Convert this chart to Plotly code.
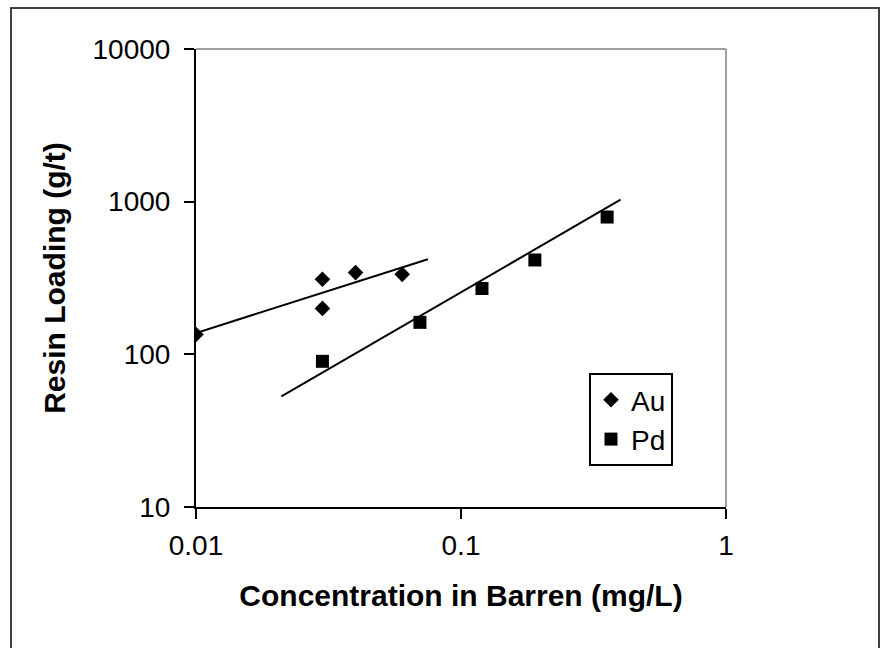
import plotly.graph_objects as go

# Data
au_x = [0.01, 0.03, 0.03, 0.04, 0.06]
au_y = [135, 310, 200, 343, 334]
pd_x = [0.03, 0.07, 0.12, 0.19, 0.356]
pd_y = [90, 162, 270, 415, 793]
# Trend lines (endpoints)
au_line_x = [0.01, 0.075]
au_line_y = [138, 420]
pd_line_x = [0.021, 0.4]
pd_line_y = [53, 1030]

x_ticks = [0.01, 0.1, 1]
x_tick_text = ["0.01", "0.1", "1"]
y_ticks = [10, 100, 1000, 10000]
y_tick_text = ["10", "100", "1000", "10000"]

FONT = "Liberation Sans, Arial, sans-serif"
TICK_SIZE = 28
TITLE_SIZE = 30

fig = go.Figure()
fig.add_trace(go.Scatter(x=au_line_x, y=au_line_y, mode="lines",
                         line=dict(color="black", width=2), showlegend=False, hoverinfo="skip"))
fig.add_trace(go.Scatter(x=pd_line_x, y=pd_line_y, mode="lines",
                         line=dict(color="black", width=2), showlegend=False, hoverinfo="skip"))
fig.add_trace(go.Scatter(x=au_x, y=au_y, mode="markers", name="Au",
                         marker=dict(symbol="diamond", size=12, color="black")))
fig.add_trace(go.Scatter(x=pd_x, y=pd_y, mode="markers", name="Pd",
                         marker=dict(symbol="square", size=13, color="black")))

L, R, T, B = 196, 726, 49, 507
W, H = 881, 648
pw, ph = R - L, B - T

def px(xp):
    return (xp - L) / pw

def py(yp):
    return (B - yp) / ph

fig.update_layout(
    width=W, height=H,
    margin=dict(l=L, r=W - R, t=T, b=H - B),
    paper_bgcolor="white", plot_bgcolor="white",
    font=dict(family=FONT, size=TICK_SIZE, color="black"),
    xaxis=dict(type="log", range=[-2, 0], tickvals=x_ticks, ticktext=x_tick_text,
               showgrid=False, zeroline=False, showline=True, linecolor="black", linewidth=2,
               ticks="outside", ticklen=10, tickwidth=2, tickcolor="black",
               tickfont=dict(size=TICK_SIZE, family=FONT), ticklabelstandoff=2,
               title=dict(text="<b>Concentration in Barren (mg/L)</b>",
                          font=dict(size=TITLE_SIZE, family=FONT), standoff=25)),
    yaxis=dict(type="log", range=[1, 4], tickvals=y_ticks, ticktext=y_tick_text,
               showgrid=False, zeroline=False, showline=True, linecolor="black", linewidth=2,
               ticks="outside", ticklen=10, tickwidth=2, tickcolor="black",
               tickfont=dict(size=TICK_SIZE, family=FONT), ticklabelstandoff=8,
               title=dict(text="<b>Resin Loading (g/t)</b>",
                          font=dict(size=TITLE_SIZE, family=FONT), standoff=18)),
    legend=dict(x=px(589), y=py(373), xanchor="left", yanchor="top",
                bgcolor="white", bordercolor="black", borderwidth=2,
                font=dict(size=TICK_SIZE, family=FONT), itemwidth=30, tracegroupgap=0),
    shapes=[
        dict(type="line", xref="paper", yref="paper", x0=0, y0=1, x1=1, y1=1,
             line=dict(color="#a0a0a0", width=2)),
        dict(type="line", xref="paper", yref="paper", x0=1, y0=0, x1=1, y1=1,
             line=dict(color="#a0a0a0", width=2)),
        dict(type="rect", xref="paper", yref="paper", x0=px(11), y0=py(655), x1=px(879), y1=py(8),
             line=dict(color="#404040", width=2), fillcolor="rgba(0,0,0,0)", layer="below"),
    ],
)

fig.write_html("out.html")
